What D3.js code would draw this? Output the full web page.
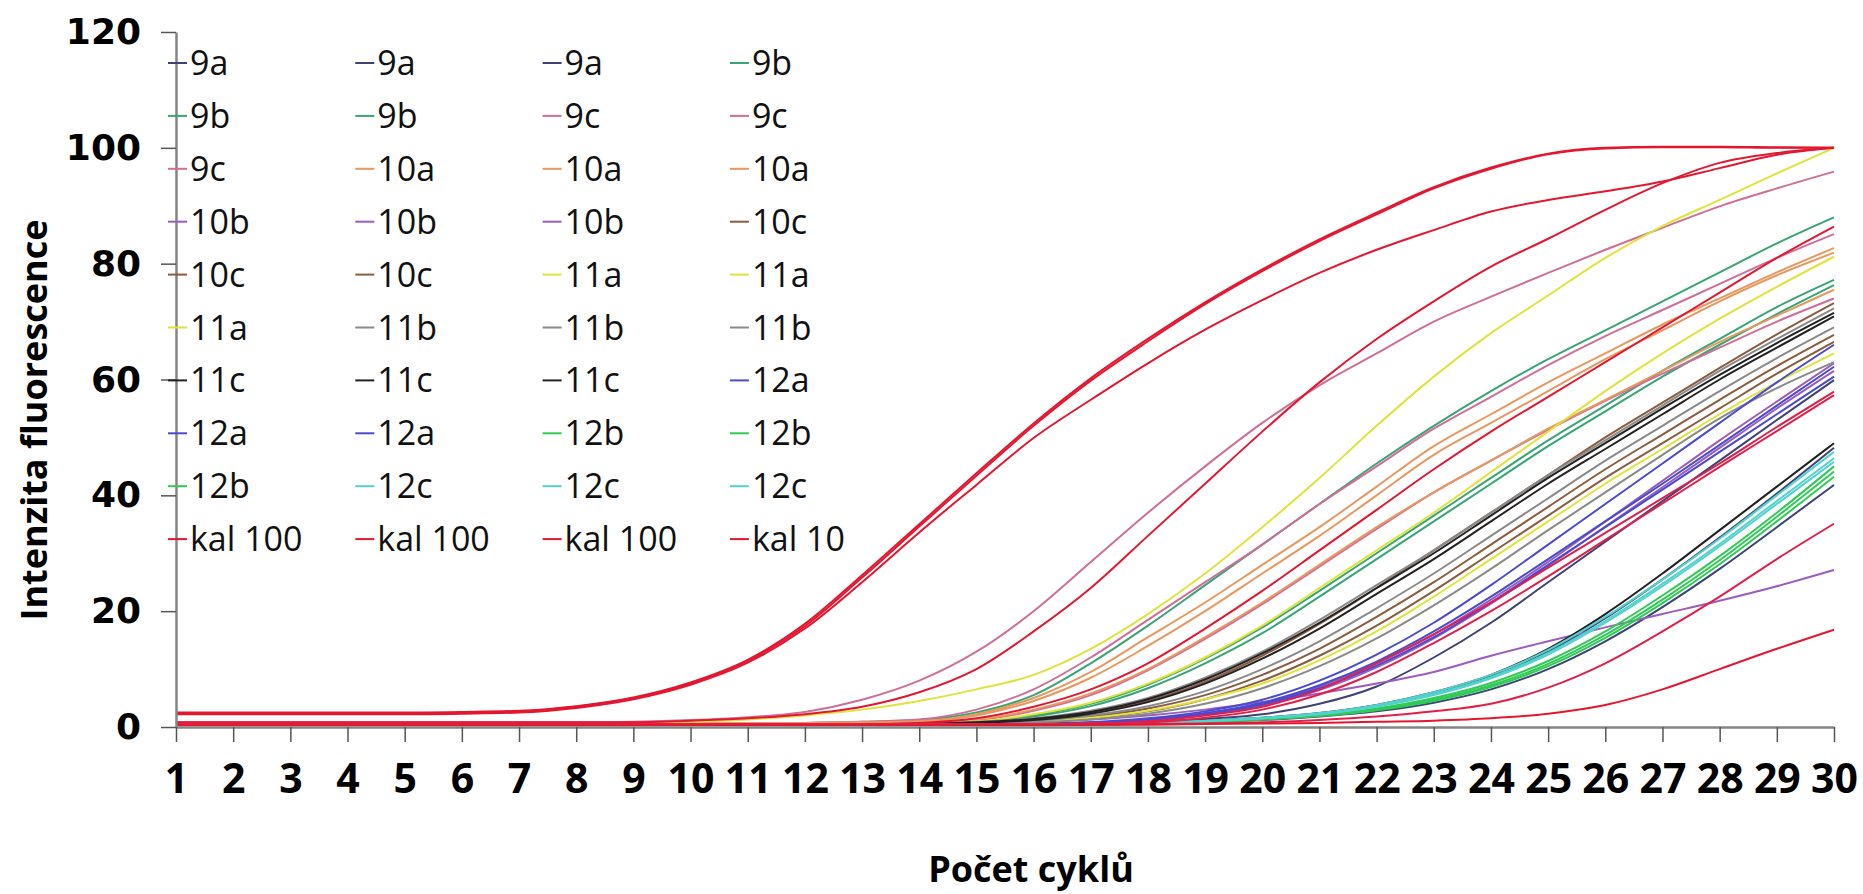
<!DOCTYPE html>
<html>
<head>
<meta charset="utf-8">
<script src="https://cdn.jsdelivr.net/npm/d3@7"></script>
<style>
  body { margin: 0; background: #fff; }
  svg { display: block; }
</style>
</head>
<body>
<svg id="chart" width="1863" height="894"></svg>
<script>

// data
var cycles = [1,2,3,4,5,6,7,8,9,10,11,12,13,14,15,16,17,18,19,20,21,22,23,24,25,26,27,28,29,30];
var yTicks = [0,20,40,60,80,100,120];

var s9a1 = [0.5,0.5,0.5,0.5,0.5,0.5,0.5,0.5,0.5,0.5,0.5,0.5,0.5,0.5,0.5,0.6,0.8,1,1.4,2.2,4,7,12,18,25,32,39,46,53,59.9];
var s9a2 = [0.4,0.4,0.4,0.4,0.4,0.4,0.4,0.4,0.4,0.4,0.4,0.4,0.4,0.4,0.4,0.5,0.6,0.7,1,1.5,2.3,3.7,5.8,8.8,13,18.8,25.5,32.7,40.3,48.2];
var s9a3 = [0.4,0.4,0.4,0.4,0.4,0.4,0.4,0.4,0.4,0.4,0.4,0.4,0.4,0.4,0.4,0.4,0.5,0.6,0.9,1.2,1.8,2.7,4.2,6.5,10,14.8,20.7,27.3,34.5,41.8];
var s9b1 = [0.6,0.6,0.6,0.6,0.6,0.6,0.6,0.6,0.6,0.6,0.6,0.7,0.9,1.2,2.5,5.5,11,17.5,24.5,31.5,38.5,45.5,52,58,63.5,68.5,73.5,78.5,83.5,88];
var s9b2 = [0.5,0.5,0.5,0.5,0.5,0.5,0.5,0.5,0.5,0.5,0.5,0.5,0.6,0.7,0.9,2,4,7.3,11.8,17.2,23.5,30,36.5,43,49.5,55.5,61.5,67,72.5,77.2];
var s9b3 = [0.5,0.5,0.5,0.5,0.5,0.5,0.5,0.5,0.5,0.5,0.5,0.5,0.5,0.6,0.8,1.8,3.6,6.7,11,16.2,22.5,29,35.5,42,48.5,54.5,60.5,66,71.3,76.3];
var s9c1 = [0.8,0.8,0.8,0.8,0.8,0.8,0.8,0.8,0.9,1.2,1.7,2.6,4.7,8,13,20,28.5,37,45,52.5,59,64.5,70,74.3,78.4,82.4,86.2,89.9,93,95.9];
var s9c2 = [0.6,0.6,0.6,0.6,0.6,0.6,0.6,0.6,0.6,0.6,0.6,0.7,0.9,1.3,3,6.5,12,18.5,25,31.5,38.5,45,51.5,57,62.5,67.5,72,76.5,81,85.1];
var s9c3 = [0.5,0.5,0.5,0.5,0.5,0.5,0.5,0.5,0.5,0.5,0.5,0.5,0.6,0.8,1.2,2.8,5.5,9.8,15.2,21.2,27.7,34.2,40.5,46,51.3,56.3,61,65.5,70,74];
var s10a1 = [0.6,0.6,0.6,0.6,0.6,0.6,0.6,0.6,0.6,0.6,0.6,0.7,0.8,1,2.2,5,9.5,15.5,21.5,28,34.5,41.5,48.5,54,59.5,64.5,69.5,74,78.5,82.7];
var s10a2 = [0.6,0.6,0.6,0.6,0.6,0.6,0.6,0.6,0.6,0.6,0.6,0.6,0.7,0.9,2,4.5,8.5,14,20,26.5,33,40,47,52.5,58,63.5,68.5,73.5,78,81.9];
var s10a3 = [0.5,0.5,0.5,0.5,0.5,0.5,0.5,0.5,0.5,0.5,0.5,0.5,0.6,0.8,1.3,3,5.8,10,15.5,21.5,28,34.5,40.5,46,51.5,56.5,61.5,66.5,71,75.5];
var s10b1 = [0.4,0.4,0.4,0.4,0.4,0.4,0.4,0.4,0.4,0.4,0.4,0.4,0.4,0.4,0.4,0.4,0.6,1.3,2.3,4,7,11,16,22,28.5,35.5,42.5,49.5,56.2,62.8];
var s10b2 = [0.5,0.5,0.5,0.5,0.5,0.5,0.5,0.5,0.5,0.5,0.5,0.5,0.5,0.5,0.6,0.9,1.3,2,3,4.3,5.8,7.5,9.5,12.3,14.8,17.2,19.5,21.8,24.3,27.1];
var s10b3 = [0.4,0.4,0.4,0.4,0.4,0.4,0.4,0.4,0.4,0.4,0.4,0.4,0.4,0.4,0.4,0.4,0.6,1.2,2.1,3.7,6.4,10.3,15.3,21.3,27.8,34.6,41.4,48.2,55,61.5];
var s10c1 = [0.5,0.5,0.5,0.5,0.5,0.5,0.5,0.5,0.5,0.5,0.5,0.5,0.5,0.5,0.7,1,1.8,3.2,5.5,9,13.5,19,25,31.5,38,44.5,50.5,56.5,62.3,67.7];
var s10c2 = [0.5,0.5,0.5,0.5,0.5,0.5,0.5,0.5,0.5,0.5,0.5,0.5,0.5,0.5,0.5,0.8,1.5,2.7,4.8,8,12.3,17.5,23.5,30,36.5,43,49,55,61,66.5];
var s10c3 = [0.5,0.5,0.5,0.5,0.5,0.5,0.5,0.5,0.5,0.5,0.5,0.5,0.5,0.6,0.8,1.3,2.5,4.5,7.8,12.3,17.8,24,30.5,37,43.5,50,56,62,67.8,73.2];
var s11a1 = [0.6,0.6,0.6,0.6,0.6,0.6,0.6,0.6,0.6,0.9,1.3,2,3,4.5,6.5,9,13.5,19.5,26.5,34.5,43,52,60.5,68,74.5,81,86.5,91,95.6,100];
var s11a2 = [0.5,0.5,0.5,0.5,0.5,0.5,0.5,0.5,0.5,0.5,0.5,0.5,0.5,0.7,1,2.2,4.2,7.5,12,17.5,24,30.5,37,44,51,58,64.5,70.5,76,81.2];
var s11a3 = [0.5,0.5,0.5,0.5,0.5,0.5,0.5,0.5,0.5,0.5,0.5,0.5,0.5,0.5,0.7,1,1.6,2.8,4.8,7.5,11.5,16.5,22.5,29,35.5,42,48,54,59.5,64.5];
var s11b1 = [0.5,0.5,0.5,0.5,0.5,0.5,0.5,0.5,0.5,0.5,0.5,0.5,0.5,0.6,0.9,1.5,2.8,5,8.5,13,18.5,24.5,30.5,37,43.5,49.5,55.5,61.5,67,72.3];
var s11b2 = [0.5,0.5,0.5,0.5,0.5,0.5,0.5,0.5,0.5,0.5,0.5,0.5,0.5,0.6,0.8,1.1,2,3.6,6.2,10,14.8,20.5,26.5,33,39.5,46,52,58,63.7,69];
var s11b3 = [0.5,0.5,0.5,0.5,0.5,0.5,0.5,0.5,0.5,0.5,0.5,0.5,0.5,0.5,0.5,0.8,1.3,2.3,4,6.7,10.5,15.3,21,27.3,34,40.5,47,53.3,58.5,63];
var s11c1 = [0.4,0.4,0.4,0.4,0.4,0.4,0.4,0.4,0.4,0.4,0.4,0.4,0.4,0.5,0.8,1.4,2.6,4.8,8.2,12.7,18,24,30,36.5,43,49,55,60.8,66.3,71.5];
var s11c2 = [0.4,0.4,0.4,0.4,0.4,0.4,0.4,0.4,0.4,0.4,0.4,0.4,0.4,0.5,0.7,1.2,2.3,4.3,7.5,11.8,17,23,29,35.5,42,48,54,60,65.5,70.9];
var s11c3 = [0.4,0.4,0.4,0.4,0.4,0.4,0.4,0.4,0.4,0.4,0.4,0.4,0.4,0.4,0.4,0.4,0.5,0.8,1.1,1.6,2.4,3.8,6,9,13.5,19.5,26.5,34,41.5,49];
var s12a1 = [0.4,0.4,0.4,0.4,0.4,0.4,0.4,0.4,0.4,0.4,0.4,0.4,0.4,0.4,0.4,0.4,0.8,1.5,2.7,4.7,8,12.5,18,24.5,31.5,38.5,45.5,52.5,59.5,66];
var s12a2 = [0.4,0.4,0.4,0.4,0.4,0.4,0.4,0.4,0.4,0.4,0.4,0.4,0.4,0.4,0.4,0.4,0.7,1.3,2.4,4.2,7.2,11.3,16.5,22.5,29,35.5,42,48.7,55.5,62.2];
var s12a3 = [0.4,0.4,0.4,0.4,0.4,0.4,0.4,0.4,0.4,0.4,0.4,0.4,0.4,0.4,0.4,0.4,0.7,1.2,2.2,3.9,6.7,10.6,15.5,21.5,28,34.5,41,47.5,54,60.5];
var s12b1 = [0.4,0.4,0.4,0.4,0.4,0.4,0.4,0.4,0.4,0.4,0.4,0.4,0.4,0.4,0.4,0.4,0.4,0.6,0.9,1.4,2.1,3.2,5,7.6,11.4,16.5,22.7,29.5,37,45];
var s12b2 = [0.4,0.4,0.4,0.4,0.4,0.4,0.4,0.4,0.4,0.4,0.4,0.4,0.4,0.4,0.4,0.4,0.4,0.6,0.9,1.3,2,3,4.7,7.2,10.9,15.9,22,28.8,36.3,44.1];
var s12b3 = [0.4,0.4,0.4,0.4,0.4,0.4,0.4,0.4,0.4,0.4,0.4,0.4,0.4,0.4,0.4,0.4,0.4,0.6,0.9,1.3,1.9,2.9,4.5,6.9,10.5,15.4,21.4,28.1,35.5,43.2];
var s12c1 = [0.4,0.4,0.4,0.4,0.4,0.4,0.4,0.4,0.4,0.4,0.4,0.4,0.4,0.4,0.4,0.4,0.4,0.7,1.1,1.6,2.4,3.8,6,9,13.3,19,25.5,32.5,40,47.5];
var s12c2 = [0.4,0.4,0.4,0.4,0.4,0.4,0.4,0.4,0.4,0.4,0.4,0.4,0.4,0.4,0.4,0.4,0.4,0.7,1,1.5,2.3,3.6,5.7,8.6,12.8,18.3,24.7,31.6,39,46.4];
var s12c3 = [0.4,0.4,0.4,0.4,0.4,0.4,0.4,0.4,0.4,0.4,0.4,0.4,0.4,0.4,0.4,0.4,0.4,0.6,1,1.5,2.2,3.5,5.5,8.4,12.5,18,24.3,31.2,38.5,45.8];
var kal100a = [2.5,2.5,2.5,2.5,2.5,2.6,2.8,3.6,5.1,7.7,11.6,17.8,26.2,35,43.8,52.4,60.2,67,73.3,79,84.2,88.8,93.2,96.6,99,100,100.2,100.2,100.1,100];
var kal100b = [2.4,2.4,2.4,2.4,2.4,2.5,2.7,3.5,5,7.5,11.4,17.4,25.8,34.6,43.4,52,59.8,66.6,73,78.7,83.9,88.5,93,96.4,98.9,99.9,100.1,100.1,100,100];
var kal100c = [2.2,2.2,2.2,2.2,2.2,2.3,2.5,3.3,4.8,7.3,11.1,17,25,33.6,41.8,49.9,56.5,62.8,68.6,73.7,78.4,82.4,85.8,89,91,92.5,94.2,96.5,98.8,100];
var kal10a = [0.8,0.8,0.8,0.8,0.8,0.8,0.8,0.8,0.8,1.1,1.5,2.2,3.5,6,10,16.5,24,33,42,51,59.5,67,73.5,79.5,84.3,89.3,93.9,97.4,99.1,100];
// series past the legend (it is cut off after 40 entries)
var kal10b = [0.5,0.5,0.5,0.5,0.5,0.5,0.5,0.5,0.5,0.5,0.5,0.5,0.5,0.7,1.5,3.5,6.5,11,17,23.5,30.5,37.5,44.5,51,57,63,69,75,81,86.4];
var kal1a = [0.5,0.5,0.5,0.5,0.5,0.5,0.5,0.5,0.5,0.5,0.5,0.5,0.5,0.5,0.5,0.5,0.6,1,2,3.5,6.5,11,16,21.5,27.5,33.5,39.5,45.5,51.8,57.9];
var kal1b = [0.5,0.5,0.5,0.5,0.5,0.5,0.5,0.5,0.5,0.5,0.5,0.5,0.5,0.5,0.5,0.5,0.6,0.8,1.6,3,5.6,9.5,14.5,20,26,32.3,38.6,44.9,51.1,57.3];
var kal1c = [0.4,0.4,0.4,0.4,0.4,0.4,0.4,0.4,0.4,0.4,0.4,0.4,0.4,0.4,0.4,0.4,0.4,0.5,0.6,0.8,1.2,1.8,2.7,4,6.8,11,16.5,22.5,29,35.1];
var kal01 = [0.3,0.3,0.3,0.3,0.3,0.3,0.3,0.3,0.3,0.3,0.3,0.3,0.3,0.3,0.3,0.3,0.4,0.4,0.5,0.6,0.7,0.9,1.1,1.5,2.3,3.8,6.5,10,13.5,16.8];

var seriesNames = ['9a','9a','9a','9b','9b','9b','9c','9c','9c','10a','10a','10a',
  '10b','10b','10b','10c','10c','10c','11a','11a','11a','11b','11b','11b',
  '11c','11c','11c','12a','12a','12a','12b','12b','12b','12c','12c','12c',
  'kal 100','kal 100','kal 100','kal 10','kal 10','kal 1','kal 1','kal 1','kal 0,1'];
var seriesValues = [s9a1,s9a2,s9a3,s9b1,s9b2,s9b3,s9c1,s9c2,s9c3,s10a1,s10a2,s10a3,
  s10b1,s10b2,s10b3,s10c1,s10c2,s10c3,s11a1,s11a2,s11a3,s11b1,s11b2,s11b3,
  s11c1,s11c2,s11c3,s12a1,s12a2,s12a3,s12b1,s12b2,s12b3,s12c1,s12c2,s12c3,
  kal100a,kal100b,kal100c,kal10a,kal10b,kal1a,kal1b,kal1c,kal01];
var groupColors = {
  '9a':'#3f4275', '9b':'#38a575', '9c':'#cf6f97', '10a':'#e8975e',
  '10b':'#9a5cc0', '10c':'#8c5c3e', '11a':'#dfe33a', '11b':'#8a8a8a',
  '11c':'#222222', '12a':'#4a4ad0', '12b':'#2fcb55', '12c':'#52d2cc',
  'kal 100':'#e3172f', 'kal 10':'#e3172f', 'kal 1':'#e0204a', 'kal 0,1':'#e3172f'
};
var legendCount = 40;

var svg = d3.select('#chart');

var x = d3.scaleLinear().domain([1, 30]).range([176, 1834]);
var y = d3.scaleLinear().domain([0, 120]).range([727, 32]);

var axisGray = '#858585';

// lines
var line = d3.line()
  .x(function(d, i){ return x(cycles[i]); })
  .y(function(d){ return y(d); })
  .curve(d3.curveMonotoneX);

svg.append('g')
  .attr('class', 'series')
  .selectAll('path')
  .data(seriesValues)
  .enter().append('path')
  .attr('d', line)
  .attr('fill', 'none')
  .attr('stroke', function(d, i){ return groupColors[seriesNames[i]]; })
  .attr('stroke-width', 2);

// axes
var yAxis = svg.append('g')
  .attr('transform', 'translate(176,0)')
  .call(d3.axisLeft(y).tickValues(yTicks).tickSize(15).tickSizeOuter(0).tickPadding(20));

yAxis.selectAll('text')
  .attr('font-family', '"DejaVu Sans", Verdana, sans-serif')
  .attr('font-weight', 'bold')
  .attr('font-size', 36)
  .attr('fill', '#000');

var xAxis = svg.append('g')
  .attr('transform', 'translate(0,727)')
  .call(d3.axisBottom(x).tickValues(cycles).tickFormat(d3.format('d')).tickSize(15).tickSizeOuter(0).tickPadding(22));

xAxis.selectAll('text')
  .attr('font-family', '"Open Sans", sans-serif')
  .attr('font-weight', 'bold')
  .attr('font-size', 41)
  .attr('fill', '#000');

svg.selectAll('.domain').attr('stroke', axisGray).attr('stroke-width', 2.5);
svg.selectAll('.tick line').attr('stroke', '#555').attr('stroke-width', 1.5);

// axis titles
svg.append('text')
  .attr('transform', 'translate(47,420) rotate(-90)')
  .attr('text-anchor', 'middle')
  .attr('font-family', '"Open Sans", sans-serif')
  .attr('font-weight', 'bold')
  .attr('font-size', 36)
  .text('Intenzita fluorescence');

svg.append('text')
  .attr('x', 1031)
  .attr('y', 882)
  .attr('text-anchor', 'middle')
  .attr('font-family', '"Open Sans", sans-serif')
  .attr('font-weight', 'bold')
  .attr('font-size', 36)
  .text('Počet cyklů');

// legend, 4 columns, row by row
var legend = svg.append('g').attr('class', 'legend');

var item = legend.selectAll('g')
  .data(seriesNames.slice(0, legendCount))
  .enter().append('g')
  .attr('transform', function(d, i){
    return 'translate(' + (190 + (i % 4) * 187.3) + ',' + (63 + Math.floor(i / 4) * 52.9) + ')';
  });

item.append('line')
  .attr('x1', -22).attr('x2', -3)
  .attr('y1', 0).attr('y2', 0)
  .attr('stroke', function(d){ return groupColors[d]; })
  .attr('stroke-width', 2);

item.append('text')
  .attr('x', 0)
  .attr('y', 12)
  .attr('font-family', '"Open Sans", sans-serif')
  .attr('font-size', 34)
  .attr('fill', '#111')
  .text(function(d){ return d; });

</script>
</body>
</html>
